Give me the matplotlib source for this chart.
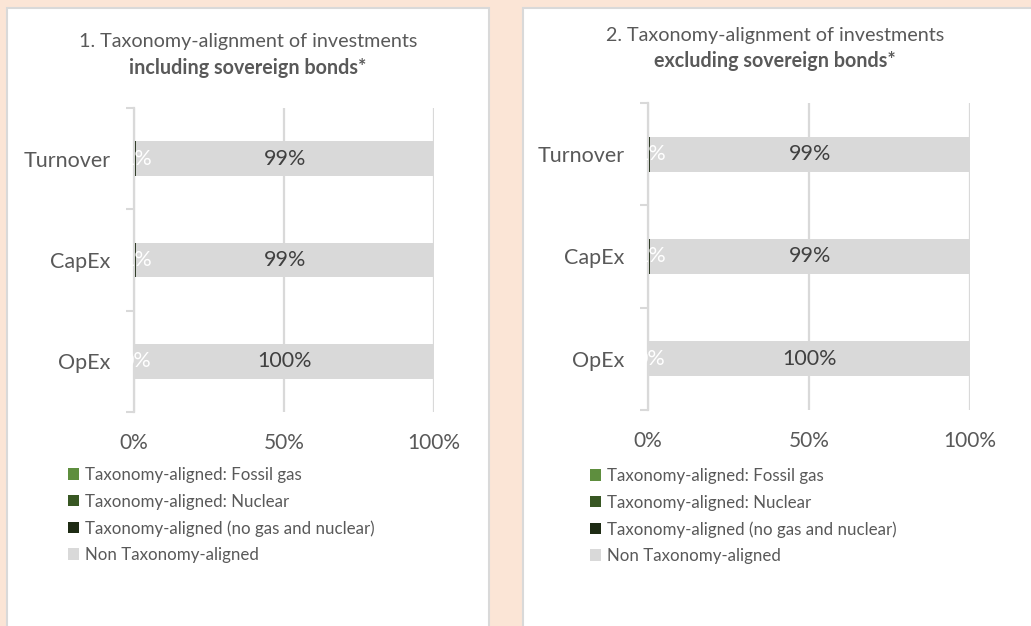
import matplotlib.pyplot as plt
from matplotlib.patches import Rectangle, Patch

plt.rcParams['font.family'] = ['Lato', 'DejaVu Sans']

# data (share of investments, %)
categories = ['OpEx', 'CapEx', 'Turnover']
series_names = ['Taxonomy-aligned: Fossil gas',
                'Taxonomy-aligned: Nuclear',
                'Taxonomy-aligned (no gas and nuclear)',
                'Non Taxonomy-aligned']
incl_fossil = [0.0, 0.0, 0.0]
incl_nuclear = [0.0, 0.0, 0.0]
incl_aligned = [0.2, 0.6, 0.7]
incl_non = [99.8, 99.4, 99.3]
excl_fossil = [0.0, 0.0, 0.0]
excl_nuclear = [0.0, 0.0, 0.0]
excl_aligned = [0.2, 0.6, 0.7]
excl_non = [99.8, 99.4, 99.3]
xticks = [0, 50, 100]
xtick_labels = ['0%', '50%', '100%']

colors = ['#5E8E3E', '#385723', '#1E2B14', '#D9D9D9']
text_grey = '#595959'
grid_grey = '#D9D9D9'

W, H = 1031, 626
fig = plt.figure(figsize=(W / 100, H / 100), dpi=100)
fig.patch.set_facecolor('#FBE5D6')

# white panels
for x0, x1 in [(7, 489), (523, 1040)]:
    fig.patches.append(Rectangle((x0 / W, -0.05), (x1 - x0) / W, 1.05 - 8 / H,
                                 transform=fig.transFigure, facecolor='white',
                                 edgecolor='#D9D9D9', lw=1.5, zorder=-5))


def draw_panel(rect, series, title1, title2, tx, ty, lx, ly):
    ax = fig.add_axes(rect)
    ax.set_facecolor('none')
    ax.set_zorder(2)
    y = range(len(categories))
    left = [0.0] * len(categories)
    for vals, c in zip(series, colors):
        ax.barh(y, vals, left=left, height=0.34, color=c, zorder=2)
        left = [a + b for a, b in zip(left, vals)]

    # data labels
    aligned = series[2]
    non = series[3]
    for i in y:
        ax.text(aligned[i] / 2 + 0.6, i, f'{aligned[i]:.0f}%', color='white',
                ha='center', va='center', fontsize=15.5, zorder=3)
        ax.text(aligned[i] + non[i] / 2, i, f'{non[i]:.0f}%', color='#404040',
                ha='center', va='center', fontsize=15.5, zorder=3)

    ax.set_xlim(0, 100)
    ax.set_ylim(-0.5, 2.5)
    ax.set_xticks(xticks)
    ax.set_xticklabels(xtick_labels)
    ax.xaxis.grid(True, color=grid_grey, lw=1.6, zorder=1)
    ax.set_axisbelow(True)
    ax.tick_params(axis='x', length=0, pad=15, labelsize=15, labelcolor=text_grey)

    ax.set_yticks([-0.5, 0.5, 1.5, 2.5])
    ax.set_yticklabels([])
    ax.set_yticks(list(y), minor=True)
    ax.set_yticklabels(categories, minor=True)
    ax.tick_params(axis='y', which='major', length=6, width=1.5, color='#D9D9D9')
    ax.tick_params(axis='y', which='minor', length=0, pad=17, labelsize=15.5,
                   labelcolor=text_grey)

    for s in ['top', 'right', 'bottom']:
        ax.spines[s].set_visible(False)
    ax.spines['left'].set_color('#D9D9D9')
    ax.spines['left'].set_linewidth(1.6)

    fig.text(tx / W, 1 - ty / H, title1, ha='center', va='center',
             fontsize=14.2, color=text_grey)
    fig.text(tx / W, 1 - (ty + 26) / H, title2, ha='center', va='center',
             fontsize=14.2, color=text_grey, fontweight='bold')

    handles = [Patch(facecolor=c, edgecolor='none') for c in colors]
    ax.legend(handles, series_names, loc='upper left',
              bbox_to_anchor=(lx / W, 1 - ly / H), bbox_transform=fig.transFigure,
              frameon=False, fontsize=12.2, labelcolor=text_grey,
              handlelength=0.65, handleheight=0.65, handletextpad=0.35,
              labelspacing=0.62, borderaxespad=0, borderpad=0)
    return ax


draw_panel([134 / W, 1 - 412 / H, 300 / W, 304 / H],
           [incl_fossil, incl_nuclear, incl_aligned, incl_non],
           '1. Taxonomy-alignment of investments', 'including sovereign bonds*',
           248, 42, 68, 467)
draw_panel([648 / W, 1 - 410 / H, 322 / W, 307 / H],
           [excl_fossil, excl_nuclear, excl_aligned, excl_non],
           '2. Taxonomy-alignment of investments', 'excluding sovereign bonds*',
           775, 35, 590, 468)

fig.savefig('out.png', dpi=100, facecolor=fig.get_facecolor())
